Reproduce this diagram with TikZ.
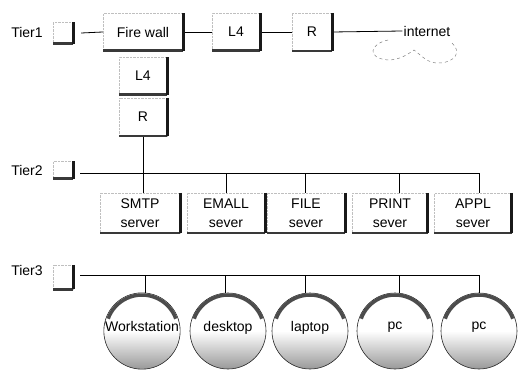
\documentclass[tikz,border=0pt]{standalone}
\usepackage{fontspec}
\setmainfont{Liberation Sans}
\usetikzlibrary{positioning}
\newcommand\diafont{\fontsize{14}{19}\selectfont}

\tikzset{
  btn/.style={draw=gray!50,densely dotted,fill=white,inner sep=0pt,align=center},
  edgeR/.style={line width=3.2pt,draw=black!90},
  edgeB/.style={line width=2.6pt,draw=gray!45!black},
  wire/.style={draw=black,line width=0.8pt},
  host/.style={circle,draw=black!85,line width=0.6pt,minimum size=76pt,inner sep=0pt,
               text depth=10pt,top color=white,bottom color=gray!80,middle color=white},
  band/.style={line width=3.5pt,draw=gray!60!black},
  cloudln/.style={draw=gray,dashed,line width=0.5pt}
}

\begin{document}
\begin{tikzpicture}[x=1pt,y=1pt,font=\diafont]
\useasboundingbox (0,0) rectangle (522,-374);

% tier 1
\node (tier1) at (27,-32) {Tier1};
\node[btn,minimum width=20pt,minimum height=21pt] (t1) at (63,-33) {};
\node[btn,minimum width=80pt,minimum height=37pt] (fw) at (143,-32) {Fire wall};
\node[btn,minimum width=48pt,minimum height=37pt] (l4a) at (236,-32) {L4};
\node[btn,minimum width=40pt,minimum height=38pt] (ra) at (312,-32) {R};
\node[inner sep=1pt] (inet) at (427,-31) {internet};
\node[btn,minimum width=48pt,minimum height=37pt] (l4b) at (143,-76) {L4};
\node[btn,minimum width=48pt,minimum height=38pt] (rb) at (143,-117) {R};

\draw[wire] ([xshift=8pt]t1.east) -- (fw.west);
\draw[wire] (fw.east) -- (l4a.west);
\draw[wire] (l4a.east) -- (ra.west);
\draw[wire] (ra.east) -- (inet.west);
\draw[cloudln] (388,-40) .. controls (370,-44) and (366,-58) .. (388,-60)
  .. controls (400,-60) and (408,-54) .. (414,-50)
  .. controls (422,-56) and (428,-64) .. (440,-63)
  .. controls (455,-62) and (462,-52) .. (452,-43);

% tier 2
\node (tier2) at (27,-170) {Tier2};
\node[btn,minimum width=20pt,minimum height=17pt] (t2) at (63,-170) {};
\node[btn,minimum width=80pt,minimum height=40pt] (s1) at (140,-213) {SMTP\\server};
\node[btn,minimum width=78pt,minimum height=40pt] (s2) at (226,-213) {EMALL\\sever};
\node[btn,minimum width=78pt,minimum height=40pt] (s3) at (306,-213) {FILE\\sever};
\node[btn,minimum width=75pt,minimum height=40pt] (s4) at (390,-213) {PRINT\\sever};
\node[btn,minimum width=77pt,minimum height=40pt] (s5) at (473,-213) {APPL\\sever};

\coordinate (bus2) at (80,-173);
\coordinate (bus2e) at (479,-173);
\draw[wire] (bus2) -- (bus2e);
\draw[wire] (rb.south) -- (rb.south |- s1.north);
\foreach \s/\d in {s2/0,s3/-1,s4/9,s5/6}
  \draw[wire] ([xshift=\d pt]\s.north) -- +(0,20);

% tier 3
\node (tier3) at (27,-270) {Tier3};
\node[btn,minimum width=20pt,minimum height=24pt] (t3) at (63,-277) {};
\node[host] (c1) at (142,-331) {Workstation};
\node[host] (c2) at (228,-331) {desktop};
\node[host] (c3) at (310,-331) {laptop};
\node[host] (c4) at (395,-331) {pc};
\node[host] (c5) at (479,-331) {pc};

\coordinate (bus3) at (80,-275);
\coordinate (bus3e) at (479,-275);
\draw[wire] (bus3) -- (bus3e);
\foreach \c/\d in {c1/3,c2/-3,c3/-5,c4/4,c5/0}
  \draw[wire] ([xshift=\d pt]\c.north) -- +(0,18);
\foreach \c in {c1,c2,c3,c4,c5}
  \draw[band] ([shift={(160:36pt)}]\c.center) arc[start angle=160,end angle=20,radius=36pt];

% button shadows
\foreach \n in {t1,t2,t3,fw,l4a,ra,l4b,rb,s1,s2,s3,s4,s5} {
  \draw[edgeB] (\n.south east) -- (\n.south west);
  \draw[edgeR] (\n.north east) -- (\n.south east);
}
\end{tikzpicture}
\end{document}
